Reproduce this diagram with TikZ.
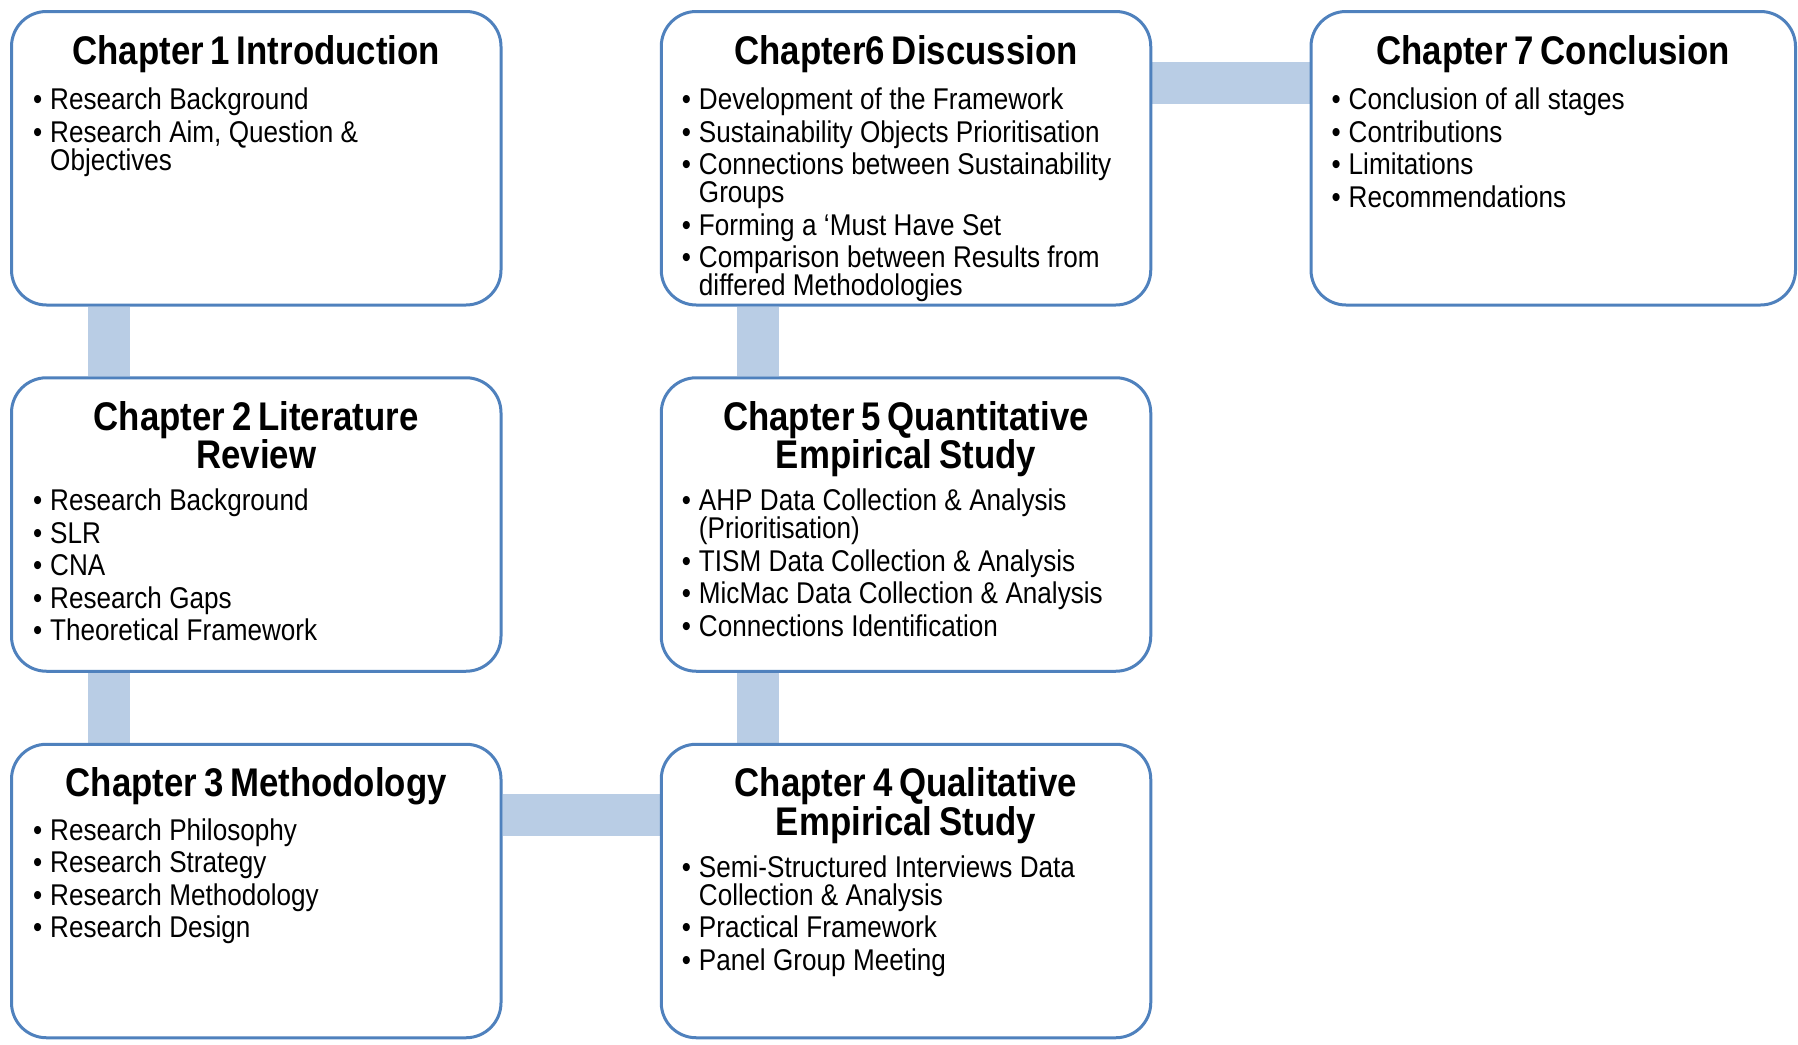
\documentclass[tikz,border=0pt]{standalone}
\usepackage{fontspec}
\setmainfont{Liberation Sans}[FakeStretch=0.87]
\usetikzlibrary{calc,backgrounds}
\definecolor{boxblue}{HTML}{4F81BD}
\definecolor{connblue}{HTML}{B9CDE5}
\newcommand{\blist}{\fontsize{30}{28}\selectfont\lineskiplimit=-30pt\parskip=4.5pt\spaceskip=7.4pt\relax}
\newcommand{\bitem}[1]{\par\hangindent=17pt\hangafter=1\noindent\makebox[17pt][l]{\textbullet}#1\par}
\newcommand{\tfmt}{\fontsize{40}{36}\selectfont\bfseries\lineskiplimit=-30pt\spaceskip=6.8pt\relax}
\tikzset{
  chbox/.style={draw=boxblue, line width=3pt, rounded corners=35pt, fill=white,
    minimum width=489.5pt, minimum height=293.5pt, inner sep=0pt},
  chtitle/.style={anchor=north, inner sep=0pt, text width=470pt, align=center},
  chbody/.style={anchor=north west, inner sep=0pt, text width=450pt},
  conn/.style={connblue, line width=42pt},
}
\begin{document}
\begin{tikzpicture}[x=1pt, y=-1pt]
\useasboundingbox (0,0) rectangle (1798,1044);
% boxes
\node[chbox] (c1) at (256.25,158.25) {};
\node[chbox] (c2) at (256.25,524.5) {};
\node[chbox] (c3) at (256.25,891) {};
\node[chbox] (c4) at (906,891) {};
\node[chbox] (c5) at (906,524.5) {};
\node[chbox] (c6) at (906,158.25) {};
\node[chbox, minimum width=484.5pt] (c7) at (1553.25,158.25) {};
% titles
\node[chtitle] (t1) at ($(c1.north)+(0,25)$) {\tfmt Chapter 1 Introduction};
\node[chtitle] (t2) at ($(c2.north)+(0,25)$) {\tfmt Chapter 2 Literature\\Review};
\node[chtitle] (t3) at ($(c3.north)+(0,25)$) {\tfmt Chapter 3 Methodology};
\node[chtitle] (t4) at ($(c4.north)+(0,25)$) {\tfmt Chapter 4 Qualitative\\Empirical Study};
\node[chtitle] (t5) at ($(c5.north)+(0,25)$) {\tfmt Chapter 5 Quantitative\\Empirical Study};
\node[chtitle] (t6) at ($(c6.north)+(0,25)$) {\tfmt Chapter6 Discussion};
\node[chtitle] (t7) at ($(c7.north)+(0,25)$) {\tfmt Chapter 7 Conclusion};
% bodies
\node[chbody] (l1) at ($(c1.north west)+(23,67)$) {\blist
  \bitem{Research Background}
  \bitem{Research Aim, Question \&\newline Objectives}};
\node[chbody] (l2) at ($(c2.north west)+(23,102)$) {\blist
  \bitem{Research Background}
  \bitem{SLR}
  \bitem{CNA}
  \bitem{Research Gaps}
  \bitem{Theoretical Framework}};
\node[chbody] (l3) at ($(c3.north west)+(23,65)$) {\blist
  \bitem{Research Philosophy}
  \bitem{Research Strategy}
  \bitem{Research Methodology}
  \bitem{Research Design}};
\node[chbody] (l4) at ($(c4.north west)+(22,102)$) {\blist
  \bitem{Semi-Structured Interviews Data\newline Collection \& Analysis}
  \bitem{Practical Framework}
  \bitem{Panel Group Meeting}};
\node[chbody] (l5) at ($(c5.north west)+(22,102)$) {\blist
  \bitem{AHP Data Collection \& Analysis\newline (Prioritisation)}
  \bitem{TISM Data Collection \& Analysis}
  \bitem{MicMac Data Collection \& Analysis}
  \bitem{Connections Identification}};
\node[chbody] (l6) at ($(c6.north west)+(22,67)$) {\blist
  \bitem{Development of the Framework}
  \bitem{Sustainability Objects Prioritisation}
  \bitem{Connections between Sustainability\newline Groups}
  \bitem{Forming a ‘Must Have Set}
  \bitem{Comparison between Results from\newline differed Methodologies}};
\node[chbody] (l7) at ($(c7.north west)+(22,67)$) {\blist
  \bitem{Conclusion of all stages}
  \bitem{Contributions}
  \bitem{Limitations}
  \bitem{Recommendations}};
% connectors
\begin{scope}[on background layer]
\draw[conn] ($(c1.south west)+(99,0)$) -- ($(c2.north west)+(99,0)$);
\draw[conn] ($(c2.south west)+(99,0)$) -- ($(c3.north west)+(99,0)$);
\draw[conn] ($(c3.north east)+(0,72.5)$) -- ($(c4.north west)+(0,72.5)$);
\draw[conn] ($(c4.north west)+(98,0)$) -- ($(c5.south west)+(98,0)$);
\draw[conn] ($(c5.north west)+(98,0)$) -- ($(c6.south west)+(98,0)$);
\draw[conn] ($(c6.north east)+(0,72.5)$) -- ($(c7.north west)+(0,72.5)$);
\end{scope}
\end{tikzpicture}
\end{document}
